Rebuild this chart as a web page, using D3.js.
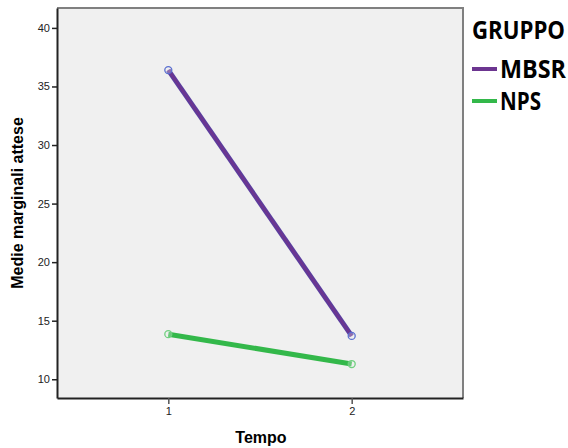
<!DOCTYPE html>
<html>
<head>
<meta charset="utf-8">
<script src="https://cdn.jsdelivr.net/npm/d3@7"></script>
<style>
  body { margin: 0; background: #fff; }
  svg { font-family: "Liberation Sans", Arial, sans-serif; }
  .tick text { font-size: 11px; fill: #222; }
  .axTitle { font-weight: bold; font-size: 16px; }
  .leg { font-family: "Open Sans", "DejaVu Sans", sans-serif; font-weight: bold; font-size: 21px; }
</style>
</head>
<body>
<script>
var tempi = [1, 2];
var gruppi = ["MBSR", "NPS"];
var mbsr = [36.4, 13.7];
var nps = [13.85, 11.3];
var yTicks = [10, 15, 20, 25, 30, 35, 40];
var colori = ["#6c3590", "#33b84a"];
var bordi = ["#5a6fd0", "#6fd07f"];
var larghezze = [66, 41];

var svg = d3.select("body").append("svg")
  .attr("width", 568)
  .attr("height", 448);

var pLeft = 57, pTop = 8, pRight = 463, pBottom = 398;

var x = d3.scaleLinear().domain([0.393, 2.607]).range([pLeft, pRight]);
var y = d3.scaleLinear().domain([8.4, 41.7]).range([pBottom, pTop]);

svg.append("rect")
  .attr("x", pLeft)
  .attr("y", pTop)
  .attr("width", pRight - pLeft)
  .attr("height", pBottom - pTop)
  .attr("fill", "#f0f0f0")
  .attr("stroke", "none");

// bordo superiore e destro grigio
svg.append("path")
  .attr("d", "M" + pLeft + "," + pTop + "H" + pRight + "V" + pBottom)
  .attr("fill", "none")
  .attr("stroke", "#808080")
  .attr("stroke-width", 2);

var yAxis = svg.append("g")
  .attr("transform", "translate(" + pLeft + ",0)")
  .call(d3.axisLeft(y).tickValues(yTicks).tickSize(5).tickSizeOuter(0).tickPadding(2));
yAxis.select(".domain").attr("stroke", "#222").attr("stroke-width", 2);
yAxis.selectAll(".tick line").attr("stroke", "#222").attr("stroke-width", 1.5);

var xAxis = svg.append("g")
  .attr("transform", "translate(0," + pBottom + ")")
  .call(d3.axisBottom(x).tickValues(tempi).tickFormat(d3.format("d")).tickSize(6).tickSizeOuter(0).tickPadding(3));
xAxis.select(".domain").attr("stroke", "#222").attr("stroke-width", 2);
xAxis.selectAll(".tick line").attr("stroke", "#555").attr("stroke-width", 1.5);

var serie = [mbsr, nps];
var line = d3.line().x(function(d, i){ return x(tempi[i]); }).y(function(d){ return y(d); });

serie.forEach(function(s, k){
  svg.append("path")
    .datum(s)
    .attr("d", line)
    .attr("fill", "none")
    .attr("stroke", k === 0 ? "#5a3d9e" : colori[k])
    .attr("stroke-width", 5);
  if (k === 0) {
    svg.append("path")
      .datum(s)
      .attr("d", line)
      .attr("fill", "none")
      .attr("stroke", colori[k])
      .attr("stroke-width", 2.5);
  }
  svg.selectAll(null).data(s).enter().append("circle")
    .attr("cx", function(d, i){ return x(tempi[i]); })
    .attr("cy", function(d){ return y(d); })
    .attr("r", 3.5)
    .attr("fill", "#f0f0f0")
    .attr("fill-opacity", 0.3)
    .attr("stroke", bordi[k])
    .attr("stroke-width", 1.3);
});

svg.append("text")
  .attr("class", "axTitle")
  .attr("x", 261)
  .attr("y", 443)
  .attr("text-anchor", "middle")
  .text("Tempo");

svg.append("text")
  .attr("class", "axTitle")
  .attr("transform", "translate(23,203) rotate(-90)")
  .attr("text-anchor", "middle")
  .text("Medie marginali attese");

// legenda (testo un po' più alto e stretto, come il Calibri di SPSS)
svg.append("text")
  .attr("class", "leg")
  .attr("transform", "translate(472,39) scale(1,1.15)")
  .attr("textLength", 93)
  .attr("lengthAdjust", "spacingAndGlyphs")
  .text("GRUPPO");

gruppi.forEach(function(g, i){
  var ly = 69 + i * 32;
  svg.append("line")
    .attr("x1", 472)
    .attr("x2", 497)
    .attr("y1", ly)
    .attr("y2", ly)
    .attr("stroke", colori[i])
    .attr("stroke-width", 4);
  svg.append("text")
    .attr("class", "leg")
    .attr("transform", "translate(500," + (ly + 9) + ") scale(1,1.15)")
    .attr("textLength", larghezze[i])
    .attr("lengthAdjust", "spacingAndGlyphs")
    .text(g);
});
</script>
</body>
</html>
